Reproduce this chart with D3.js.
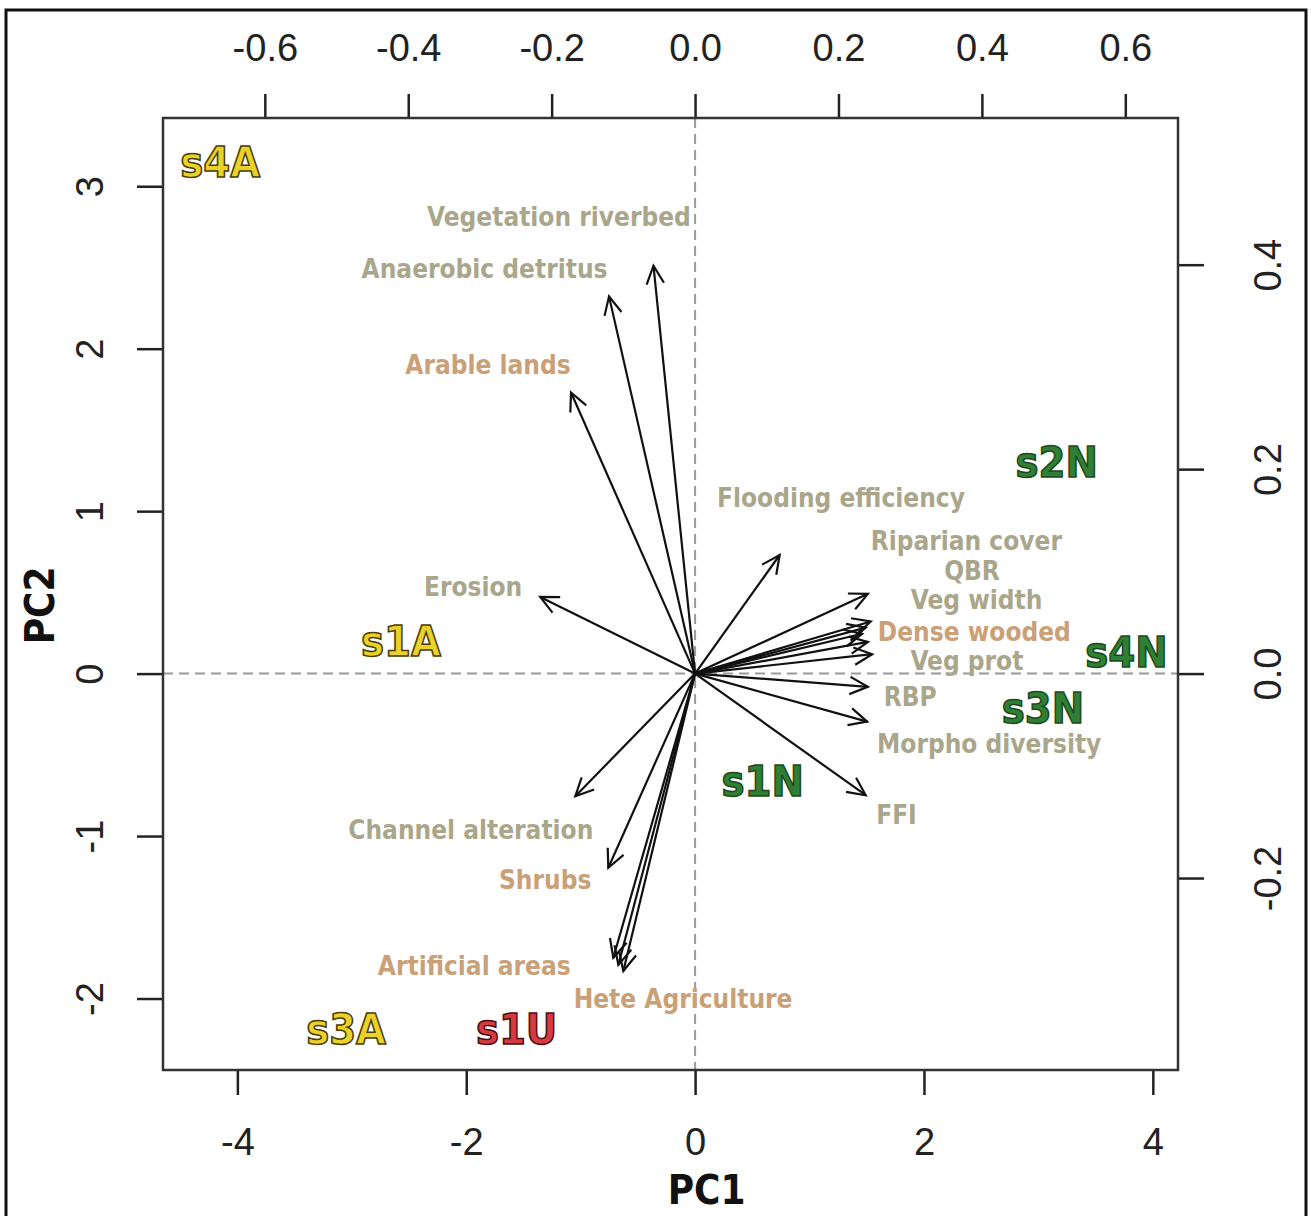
<!DOCTYPE html>
<html>
<head>
<meta charset="utf-8">
<script src="https://cdn.jsdelivr.net/npm/d3@7"></script>
<style>
  body { margin: 0; background: #fff; }
  svg { display: block; }
  .tick text { font-family: "Liberation Sans", Arial, sans-serif; fill: #222; }
  .cond { font-family: "Liberation Sans Narrow", "DejaVu Sans", sans-serif; font-stretch: condensed; font-weight: bold; }
</style>
</head>
<body>
<svg id="viz" width="1311" height="1216"></svg>
<script>
// sample scores (PC1, PC2)
var sampleNames = ['s4A', 's1A', 's3A', 's1U', 's1N', 's2N', 's4N', 's3N'];
var sampleGroup = ['A', 'A', 'A', 'U', 'N', 'N', 'N', 'N'];
var sampleX = [-4.15, -2.57, -3.05, -1.56, 0.59, 3.16, 3.77, 3.04];
var sampleY = [3.15, 0.20, -2.19, -2.19, -0.66, 1.30, 0.135, -0.21];

// variable loadings (top / right axes)
var loadX = [-0.058, -0.120, -0.173, -0.216, 0.118, 0.241, 0.245, 0.238, 0.233, 0.241,
             0.247, 0.241, 0.240, 0.238, -0.167, -0.121, -0.114, -0.107, -0.100];
var loadY = [0.399, 0.369, 0.275, 0.075, 0.116, 0.078, 0.051, 0.045, 0.039, 0.031,
             0.019, -0.013, -0.047, -0.119, -0.120, -0.190, -0.278, -0.285, -0.291];

// variable labels, placed by hand in the PC1/PC2 frame
var varNames = ['Vegetation riverbed', 'Anaerobic detritus', 'Arable lands', 'Erosion',
  'Flooding efficiency', 'Riparian cover', 'QBR', 'Veg width', 'Dense wooded', 'Veg prot',
  'RBP', 'Morpho diversity', 'FFI', 'Channel alteration', 'Shrubs', 'Artificial areas',
  'Hete Agriculture'];
var varKind = ['g', 'g', 't', 'g', 'g', 'g', 'g', 'g', 't', 'g', 'g', 'g', 'g', 'g', 't', 't', 't'];
var varLabelX = [-1.19, -1.84, -1.81, -1.94, 1.275, 2.37, 2.42, 2.46, 2.44, 2.375,
                 1.88, 2.57, 1.76, -1.96, -1.31, -1.93, -0.105];
var varLabelY = [2.81, 2.49, 1.90, 0.535, 1.083, 0.818, 0.634, 0.455, 0.258, 0.08,
                 -0.142, -0.431, -0.868, -0.96, -1.268, -1.797, -2.006];

var pc1Ticks = [-4, -2, 0, 2, 4];
var pc2Ticks = [-2, -1, 0, 1, 2, 3];
var loadXTicks = [-0.6, -0.4, -0.2, 0.0, 0.2, 0.4, 0.6];
var loadYTicks = [-0.2, 0.0, 0.2, 0.4];

(function() {
  // plot box in pixels (careful: "top" is a reserved window global)
  var pL = 163, pR = 1178, pT = 118, pB = 1070;
  var svg = d3.select('#viz');

  var x = d3.scaleLinear().domain([-4.65, 4.22]).range([pL, pR]);
  var y = d3.scaleLinear().domain([-2.44, 3.42]).range([pB, pT]);
  // loading scales share the pixel frame
  var xL = d3.scaleLinear().domain([-0.742, 0.6735]).range([pL, pR]);
  var yL = d3.scaleLinear().domain([-0.3878, 0.5435]).range([pB, pT]);

  // R prints a plain hyphen for negatives
  var fmtInt = function(d) { return String(d); };
  var fmt1 = function(d) { return d.toFixed(1); };

  // outer frame
  svg.append('rect')
    .attr('x', 6).attr('y', 10).attr('width', 1300).attr('height', 1220)
    .style('fill', 'none').style('stroke', '#111').style('stroke-width', 3);

  // zero lines
  svg.append('line')
    .attr('x1', pL).attr('x2', pR).attr('y1', y(0)).attr('y2', y(0))
    .style('stroke', '#9a9a9a').style('stroke-width', 2).style('stroke-dasharray', '10,6');
  svg.append('line')
    .attr('x1', x(0)).attr('x2', x(0)).attr('y1', pT).attr('y2', pB)
    .style('stroke', '#9a9a9a').style('stroke-width', 2).style('stroke-dasharray', '10,6');

  function styleAxis(g) {
    g.select('.domain').remove();
    g.selectAll('.tick line').style('stroke', '#222').style('stroke-width', 2.5);
    g.selectAll('.tick text').style('font-size', '38px');
  }

  svg.append('g').attr('transform', 'translate(0,' + pB + ')')
    .call(d3.axisBottom(x).tickValues(pc1Ticks).tickSize(25).tickPadding(33).tickFormat(fmtInt))
    .call(styleAxis);
  svg.append('g').attr('transform', 'translate(0,' + pT + ')')
    .call(d3.axisTop(xL).tickValues(loadXTicks).tickSize(24).tickPadding(33).tickFormat(fmt1))
    .call(styleAxis);

  var gl = svg.append('g').attr('transform', 'translate(' + pL + ',0)')
    .call(d3.axisLeft(y).tickValues(pc2Ticks).tickSize(26).tickFormat(fmtInt))
    .call(styleAxis);
  gl.selectAll('.tick text')
    .attr('x', null).attr('dy', null)
    .attr('transform', 'translate(-73,0) rotate(-90)')
    .attr('text-anchor', 'middle').attr('dominant-baseline', 'central');

  var gr = svg.append('g').attr('transform', 'translate(' + pR + ',0)')
    .call(d3.axisRight(yL).tickValues(loadYTicks).tickSize(26).tickFormat(fmt1))
    .call(styleAxis);
  gr.selectAll('.tick text')
    .attr('x', null).attr('dy', null)
    .attr('transform', 'translate(90,0) rotate(-90)')
    .attr('text-anchor', 'middle').attr('dominant-baseline', 'central');

  // plot box
  svg.append('rect')
    .attr('x', pL).attr('y', pT).attr('width', pR - pL).attr('height', pB - pT)
    .style('fill', 'none').style('stroke', '#333').style('stroke-width', 2.5);

  // axis titles
  svg.append('text').attr('class', 'cond')
    .attr('x', x(0.1)).attr('y', 1190)
    .attr('text-anchor', 'middle').attr('dominant-baseline', 'central')
    .style('font-size', '40px').style('fill', '#111')
    .text('PC1');
  svg.append('text').attr('class', 'cond')
    .attr('transform', 'translate(40,' + y(0.42) + ') rotate(-90)')
    .attr('text-anchor', 'middle').attr('dominant-baseline', 'central')
    .style('font-size', '40px').style('fill', '#111')
    .text('PC2');

  // arrows
  var arrows = loadX.map(function(d, i) { return {x: d, y: loadY[i]}; });
  var headLen = 20, headAng = Math.PI / 7;
  var ga = svg.append('g');
  arrows.forEach(function(d) {
    var x0 = xL(0), y0 = yL(0), x1 = xL(d.x), y1 = yL(d.y);
    var a = Math.atan2(y1 - y0, x1 - x0);
    ga.append('line')
      .attr('x1', x0).attr('y1', y0).attr('x2', x1).attr('y2', y1)
      .style('stroke', '#111').style('stroke-width', 2.2);
    ga.append('path')
      .attr('d', d3.line()([
        [x1 - headLen * Math.cos(a - headAng), y1 - headLen * Math.sin(a - headAng)],
        [x1, y1],
        [x1 - headLen * Math.cos(a + headAng), y1 - headLen * Math.sin(a + headAng)]
      ]))
      .style('fill', 'none').style('stroke', '#111').style('stroke-width', 2.2);
  });

  // variable labels
  var kindColor = {g: '#aaa68b', t: '#caa077'};
  svg.append('g').selectAll('text')
    .data(varNames)
    .enter()
    .append('text').attr('class', 'cond')
    .attr('x', function(d, i) { return x(varLabelX[i]); })
    .attr('y', function(d, i) { return y(varLabelY[i]); })
    .attr('text-anchor', 'middle').attr('dominant-baseline', 'central')
    .style('font-size', '26px')
    .style('fill', function(d, i) { return kindColor[varKind[i]]; })
    .text(function(d) { return d; });

  // sample labels
  var groupFill = {A: '#ead22a', U: '#d83a44', N: '#2f7f34'};
  var groupStroke = {A: '#4a3d05', U: '#4d0d10', N: '#1c4a1e'};
  svg.append('g').selectAll('text')
    .data(sampleNames)
    .enter()
    .append('text').attr('class', 'cond')
    .attr('x', function(d, i) { return x(sampleX[i]); })
    .attr('y', function(d, i) { return y(sampleY[i]); })
    .attr('text-anchor', 'middle').attr('dominant-baseline', 'central')
    .style('font-size', '43px')
    .style('fill', function(d, i) { return groupFill[sampleGroup[i]]; })
    .style('stroke', function(d, i) { return groupStroke[sampleGroup[i]]; })
    .style('stroke-width', 1.5)
    .text(function(d) { return d; });
})();
</script>
</body>
</html>
